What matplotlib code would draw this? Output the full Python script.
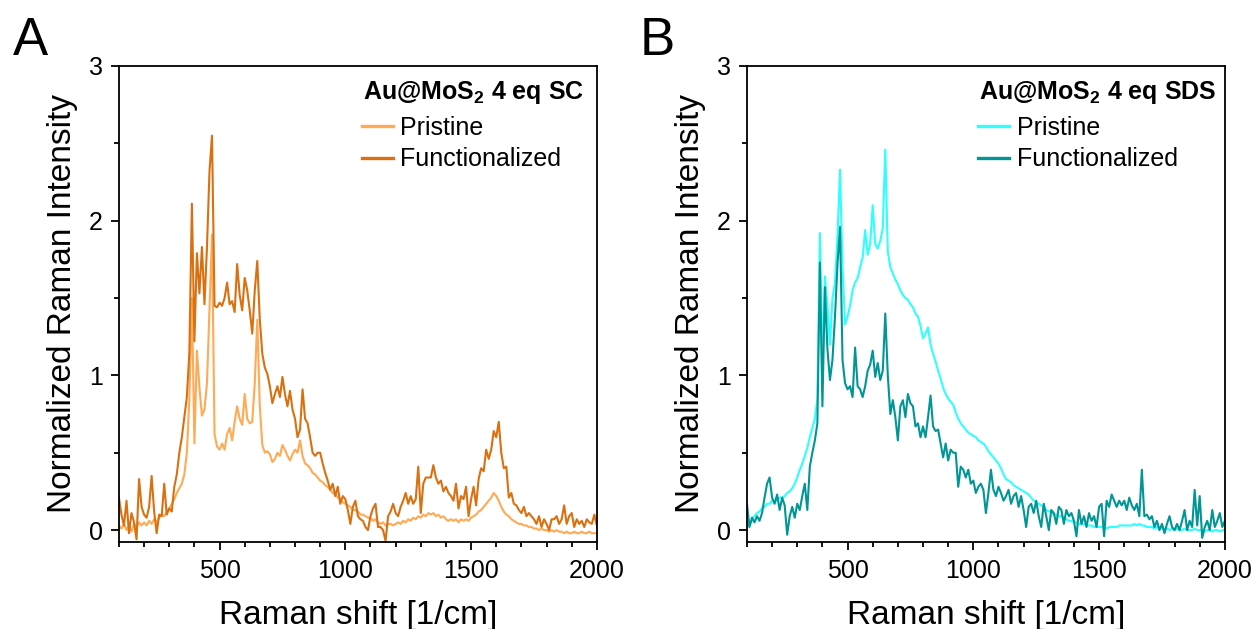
import numpy as np
import matplotlib
matplotlib.use("Agg")
import matplotlib.pyplot as plt
from matplotlib.ticker import MultipleLocator, FixedLocator

plt.rcParams["font.family"] = ["Liberation Sans", "DejaVu Sans"]
plt.rcParams["mathtext.fontset"] = "custom"
plt.rcParams["mathtext.rm"] = "Liberation Sans"
plt.rcParams["mathtext.bf"] = "Liberation Sans:bold"

# Raman shift axis (1/cm), sampled every 10 1/cm from 100 to 2000
shift = np.arange(100, 2001, 10)

# --- Au@MoS2 4 eq SC ---
sc_pristine = [
    0.03, 0.01, 0.04, 0.00, 0.03, -0.01, 0.04, 0.02, 0.05, 0.03,
    0.05, 0.03, 0.06, 0.04, 0.07, 0.05, 0.08, 0.10, 0.09, 0.12,
    0.14, 0.17, 0.20, 0.24, 0.27, 0.30, 0.36, 0.50, 0.85, 1.50,
    0.56, 1.16, 0.92, 0.74, 0.78, 0.95, 1.44, 1.91, 0.62, 0.54,
    0.52, 0.56, 0.52, 0.62, 0.66, 0.58, 0.70, 0.80, 0.72, 0.68,
    0.88, 0.72, 0.69, 0.70, 0.95, 1.36, 0.80, 0.55, 0.50, 0.51,
    0.49, 0.44, 0.46, 0.50, 0.48, 0.55, 0.52, 0.48, 0.45, 0.49,
    0.52, 0.50, 0.58, 0.48, 0.43, 0.42, 0.40, 0.37, 0.36, 0.34,
    0.32, 0.31, 0.29, 0.28, 0.26, 0.24, 0.23, 0.21, 0.20, 0.18,
    0.17, 0.16, 0.15, 0.13, 0.13, 0.12, 0.10, 0.10, 0.09, 0.08,
    0.08, 0.06, 0.07, 0.05, 0.04, 0.05, 0.03, 0.04, 0.04, 0.03,
    0.04, 0.05, 0.04, 0.06, 0.05, 0.07, 0.06, 0.08, 0.07, 0.09,
    0.08, 0.10, 0.09, 0.11, 0.10, 0.11, 0.09, 0.10, 0.08, 0.09,
    0.07, 0.06, 0.07, 0.06, 0.07, 0.05, 0.07, 0.06, 0.07, 0.06,
    0.08, 0.09, 0.10, 0.12, 0.13, 0.15, 0.17, 0.19, 0.21, 0.24,
    0.22, 0.19, 0.15, 0.12, 0.10, 0.09, 0.07, 0.06, 0.05, 0.04,
    0.04, 0.03, 0.03, 0.02, 0.02, 0.01, 0.01, 0.00, 0.01, 0.00,
    0.00, -0.01, 0.00, -0.01, 0.00, -0.01, -0.01, -0.02, -0.01, -0.02,
    -0.02, -0.01, -0.02, -0.02, -0.01, -0.02, -0.02, -0.01, -0.02, -0.02,
    -0.02,
]
sc_functionalized = [
    0.21, 0.10, 0.03, 0.19, -0.02, 0.11, 0.05, -0.06, 0.33, 0.15,
    0.10, 0.08, 0.15, 0.35, 0.12, -0.02, 0.10, 0.09, 0.30, 0.10,
    0.14, 0.12, 0.28, 0.36, 0.50, 0.60, 0.73, 0.86, 1.15, 2.11,
    1.22, 1.79, 1.53, 1.83, 1.46, 1.83, 2.32, 2.55, 1.45, 1.44,
    1.47, 1.45, 1.50, 1.60, 1.46, 1.48, 1.41, 1.72, 1.52, 1.42,
    1.63, 1.55, 1.42, 1.27, 1.55, 1.74, 1.36, 1.14, 1.05, 1.01,
    0.93, 0.82, 0.88, 0.93, 0.86, 0.99, 0.88, 0.80, 0.90, 0.78,
    0.72, 0.60, 0.65, 0.91, 0.72, 0.69, 0.60, 0.50, 0.48, 0.50,
    0.50, 0.43, 0.37, 0.32, 0.26, 0.30, 0.22, 0.28, 0.17, 0.22,
    0.20, 0.13, 0.04, 0.15, 0.19, 0.09, 0.07, 0.06, 0.02, 0.00,
    0.09, 0.14, 0.17, 0.02, 0.02, 0.00, -0.07, 0.09, 0.12, 0.17,
    0.11, 0.09, 0.15, 0.19, 0.24, 0.17, 0.22, 0.17, 0.20, 0.41,
    0.11, 0.30, 0.34, 0.34, 0.34, 0.42, 0.34, 0.30, 0.32, 0.25,
    0.28, 0.24, 0.22, 0.19, 0.30, 0.14, 0.22, 0.20, 0.28, 0.09,
    0.20, 0.28, 0.16, 0.33, 0.40, 0.38, 0.52, 0.46, 0.52, 0.64,
    0.60, 0.70, 0.50, 0.40, 0.41, 0.21, 0.24, 0.17, 0.16, 0.13,
    0.11, 0.15, 0.09, 0.11, 0.09, 0.07, 0.04, 0.09, 0.02, 0.07,
    0.04, 0.00, 0.07, 0.07, 0.09, 0.04, 0.07, 0.16, 0.04, 0.09,
    0.11, 0.02, 0.07, 0.04, 0.06, 0.02, 0.07, 0.05, 0.04, 0.10,
    0.03,
]

# --- Au@MoS2 4 eq SDS ---
sds_pristine = [
    0.02, 0.03, 0.07, 0.09, 0.11, 0.12, 0.14, 0.15, 0.17, 0.17,
    0.19, 0.18, 0.20, 0.21, 0.21, 0.22, 0.24, 0.25, 0.27, 0.30,
    0.34, 0.39, 0.43, 0.48, 0.53, 0.60, 0.66, 0.72, 0.85, 1.92,
    1.05, 1.64, 1.45, 1.20, 1.50, 1.60, 1.90, 2.33, 1.70, 1.33,
    1.38, 1.45, 1.55, 1.60, 1.63, 1.70, 1.76, 1.94, 1.78, 1.85,
    2.10, 1.85, 1.82, 1.87, 1.95, 2.46, 1.80, 1.70, 1.66, 1.62,
    1.59, 1.55, 1.52, 1.50, 1.49, 1.46, 1.44, 1.40, 1.38, 1.32,
    1.24, 1.27, 1.31, 1.20, 1.14, 1.09, 1.03, 0.98, 0.92, 0.88,
    0.85, 0.83, 0.81, 0.76, 0.72, 0.69, 0.67, 0.65, 0.63, 0.62,
    0.61, 0.60, 0.58, 0.57, 0.56, 0.54, 0.51, 0.49, 0.47, 0.45,
    0.43, 0.40, 0.36, 0.33, 0.32, 0.31, 0.29, 0.28, 0.27, 0.26,
    0.25, 0.24, 0.23, 0.21, 0.19, 0.18, 0.17, 0.16, 0.15, 0.13,
    0.12, 0.12, 0.10, 0.10, 0.09, 0.09, 0.08, 0.07, 0.06, 0.06,
    0.05, 0.05, 0.04, 0.04, 0.04, 0.03, 0.03, 0.03, 0.02, 0.02,
    0.02, 0.02, 0.02, 0.01, 0.02, 0.02, 0.02, 0.02, 0.03, 0.03,
    0.03, 0.03, 0.03, 0.03, 0.04, 0.03, 0.04, 0.03, 0.03, 0.02,
    0.02, 0.02, 0.01, 0.02, 0.01, 0.01, 0.01, 0.01, 0.00, 0.01,
    0.00, 0.01, 0.00, 0.00, 0.01, 0.00, 0.00, 0.00, 0.01, 0.00,
    0.00, 0.00, -0.01, 0.00, 0.00, -0.01, 0.00, 0.00, -0.01, 0.00,
    0.00,
]
sds_functionalized = [
    0.17, 0.02, 0.08, 0.05, 0.09, 0.06, 0.11, 0.21, 0.30, 0.34,
    0.21, 0.17, 0.23, 0.13, 0.21, 0.16, -0.03, 0.09, 0.15, 0.08,
    0.17, 0.13, 0.22, 0.30, 0.13, 0.41, 0.50, 0.58, 0.69, 1.73,
    0.80, 1.57, 1.17, 0.97, 1.10, 1.38, 1.72, 1.96, 1.10, 0.95,
    0.91, 0.93, 0.86, 1.18, 0.93, 0.91, 0.86, 0.93, 1.03, 1.07,
    1.16, 0.99, 1.08, 0.97, 1.03, 1.40, 1.00, 0.75, 0.84, 0.73,
    0.58, 0.80, 0.84, 0.73, 0.88, 0.82, 0.80, 0.67, 0.69, 0.60,
    0.67, 0.60, 0.73, 0.87, 0.67, 0.64, 0.65, 0.56, 0.47, 0.56,
    0.45, 0.52, 0.50, 0.50, 0.28, 0.41, 0.39, 0.34, 0.39, 0.30,
    0.32, 0.24, 0.28, 0.30, 0.26, 0.11, 0.24, 0.39, 0.26, 0.22,
    0.28, 0.24, 0.19, 0.22, 0.26, 0.17, 0.22, 0.24, 0.15, 0.22,
    0.13, 0.02, 0.15, 0.17, 0.11, 0.19, 0.09, 0.02, 0.17, 0.09,
    0.00, 0.13, 0.11, 0.04, 0.15, 0.13, 0.04, 0.13, 0.09, 0.11,
    0.06, -0.04, 0.13, 0.04, 0.09, 0.02, 0.11, 0.06, 0.09, 0.02,
    0.15, 0.17, -0.04, 0.19, 0.15, 0.23, 0.19, 0.15, 0.19, 0.16,
    0.19, 0.13, 0.21, 0.16, 0.13, 0.17, 0.09, 0.39, 0.09, 0.10,
    0.07, 0.09, 0.02, 0.06, 0.00, 0.04, -0.02, 0.04, 0.09, 0.02,
    0.00, 0.04, 0.00, 0.06, 0.13, 0.00, 0.06, 0.02, 0.26, 0.03,
    0.22, -0.05, 0.02, 0.06, 0.00, 0.13, 0.02, 0.06, 0.11, 0.02,
    0.06,
]

panels = [
    ("A", "Au@MoS$_\\mathbf{2}$ 4 eq SC", sc_pristine, sc_functionalized,
     "#FFAA55", "#DA7010", 0.508),
    ("B", "Au@MoS$_\\mathbf{2}$ 4 eq SDS", sds_pristine, sds_functionalized,
     "#2EFFFF", "#009696", 0.483),
]
series_labels = ["Pristine", "Functionalized"]

fig = plt.figure(figsize=(12.56, 6.29), dpi=100)
axes_lefts = [0.0947, 0.5947]
letter_x = [0.010, 0.509]

for (letter, title, pristine, functional, c_light, c_dark, key_x), left, lx in zip(
        panels, axes_lefts, letter_x):
    ax = fig.add_axes([left, 0.1383, 0.3805, 0.7568])
    ax.plot(shift, pristine, color=c_light, lw=1.5, label=series_labels[0])
    ax.plot(shift, functional, color=c_dark, lw=1.5, label=series_labels[1])

    ax.set_xlim(100, 2000)
    ax.set_ylim(-0.077, 3.0)
    ax.xaxis.set_major_locator(FixedLocator([500, 1000, 1500, 2000]))
    ax.xaxis.set_minor_locator(MultipleLocator(100))
    ax.yaxis.set_major_locator(MultipleLocator(1))
    ax.yaxis.set_minor_locator(MultipleLocator(0.5))
    ax.tick_params(which="both", direction="out", width=1.3, labelsize=18,
                   top=False, right=False)
    ax.tick_params(which="major", length=6)
    ax.tick_params(which="minor", length=3.6)
    ax.tick_params(axis="x", pad=6)
    ax.tick_params(axis="y", pad=5.5)
    for s in ax.spines.values():
        s.set_linewidth(1.3)

    ax.set_xlabel("Raman shift [1/cm]", fontsize=24)
    ax.set_ylabel("Normalized Raman Intensity", fontsize=24)
    ax.xaxis.set_label_coords(0.5, -0.121)
    ax.yaxis.set_label_coords(-0.086, 0.5)

    # key title and entries
    ax.text(key_x + 0.002, 0.931, title, transform=ax.transAxes, fontsize=18,
            fontweight="bold", ha="left", va="baseline")
    leg = ax.legend(loc="upper left", frameon=False, fontsize=18,
                    handlelength=1.25, handletextpad=0.3, labelspacing=0.3,
                    borderpad=0, borderaxespad=0,
                    bbox_to_anchor=(key_x, 0.895))
    for h in leg.get_lines():
        h.set_linewidth(2.4)

    fig.text(lx, 1 - 55 / 629, letter, fontsize=38, va="baseline", ha="left")

fig.savefig("out.png", dpi=100)
